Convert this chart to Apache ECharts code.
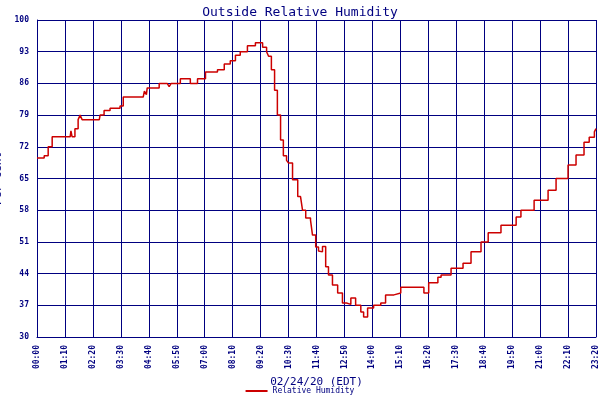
<!DOCTYPE html>
<html><head><meta charset="utf-8">
<script src="https://cdn.jsdelivr.net/npm/echarts@6/dist/echarts.min.js"></script>
<style>html,body{margin:0;padding:0;background:#fff}#c{width:600px;height:400px}</style>
</head><body><div id="c"></div>
<script>
const minutes = [0,18,28,38,83,85,88,95,103,108,113,156,158,168,183,208,216,266,269,274,276,294,306,326,331,336,359,384,402,422,452,469,484,497,509,527,547,555,565,575,580,587,595,602,610,617,625,630,640,653,660,665,673,685,690,698,705,710,715,723,730,740,753,765,775,786,798,811,818,828,843,861,873,894,911,954,969,981,1004,1012,1037,1067,1087,1112,1130,1162,1200,1212,1245,1280,1300,1330,1350,1370,1383,1396,1400];
const humidity = [69.5,70,72,74.2,74.2,75.5,74.2,76,78,79,78,78,79,80,80.5,81,83,83,84.3,83.5,85,85,86,86,85.3,86,87,86,87,88.5,89,90.3,91,92.2,93,94.3,95,95,94,93,92,89,84.5,79,73.5,70,69,68.4,64.7,61,61,58,56.3,55.8,52.5,49.9,49,48.8,50,45.5,43.7,41.5,39.7,37.5,37.2,38.6,37,35.5,34.4,36.4,37,37.5,39.3,39.7,41,41,39.7,42,43.2,43.7,45.2,46.3,48.8,51,53,54.7,56.5,58,60.2,62.4,65,68,70.2,73,74.1,75.3,76];
const navy = '#000080';
const font = 'DejaVu Sans Mono';
function hhmm(m){const h=Math.floor(m/60),mm=m%60;return String(h).padStart(2,'0')+':'+String(mm).padStart(2,'0');}
const chart = echarts.init(document.getElementById('c'));
chart.setOption({
  animation:false,
  backgroundColor:'#fff',
  title:{text:'Outside Relative Humidity',left:'center',top:1,textStyle:{color:navy,fontFamily:font,fontWeight:'normal',fontSize:13}},
  grid:{left:37,right:4,top:20,bottom:63,containLabel:false,outerBoundsMode:'none'},
  legend:{bottom:0,left:'center',itemWidth:22,itemHeight:2,icon:'rect',textStyle:{color:navy,fontFamily:font,fontSize:8},data:['Relative Humidity']},
  xAxis:{type:'value',min:0,max:1400,interval:70,
    name:'02/24/20 (EDT)',nameLocation:'middle',nameGap:40,nameTextStyle:{color:navy,fontFamily:font,fontSize:11},
    axisLine:{lineStyle:{color:navy,width:1}},axisTick:{show:false},
    axisLabel:{rotate:90,color:navy,fontFamily:font,fontSize:8,fontWeight:'bold',hideOverlap:false,formatter:v=>hhmm(v)},
    splitLine:{show:true,lineStyle:{color:navy,width:1}}},
  yAxis:{type:'value',min:30,max:100,interval:7,
    name:'Per Cent',nameLocation:'middle',nameGap:24,nameTextStyle:{color:navy,fontFamily:font,fontSize:11},
    axisLine:{show:true,lineStyle:{color:navy,width:1}},axisTick:{show:false},
    axisLabel:{color:navy,fontFamily:font,fontSize:8,fontWeight:'bold'},
    splitLine:{show:true,lineStyle:{color:navy,width:1}}},
  series:[{name:'Relative Humidity',type:'line',step:'end',showSymbol:false,
    data:minutes.map((m,i)=>[m,humidity[i]]),
    lineStyle:{color:'#cc0000',width:1.5},itemStyle:{color:'#cc0000'}}]
});
</script></body></html>
